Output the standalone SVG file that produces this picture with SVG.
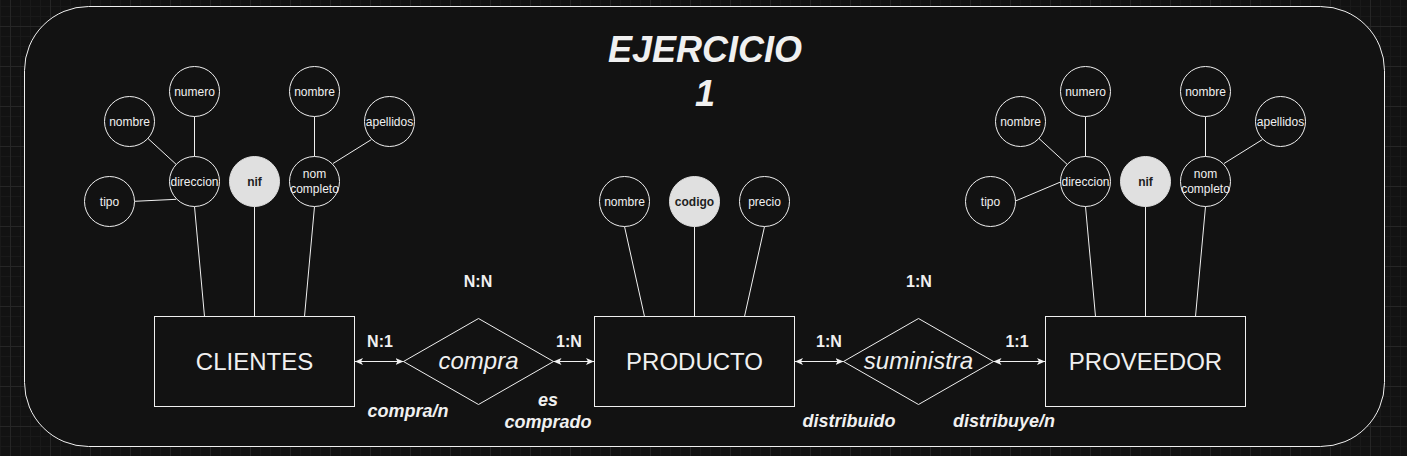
<svg xmlns="http://www.w3.org/2000/svg" width="1407" height="456" viewBox="0 0 1407 456">
<style>
text{font-family:"Liberation Sans",Arial,sans-serif;fill:#f0f0f0;text-anchor:middle}
.attr circle{fill:#121212;stroke:#f0f0f0;stroke-width:1}
.attr text{font-size:12px}
.key circle{fill:#e0e0e0;stroke:#e0e0e0}
.key text{fill:#1e1e1e;font-weight:bold}
.ent rect{fill:#121212;stroke:#f0f0f0;stroke-width:1}
.ent text{font-size:24px}
.rel polygon{fill:#121212;stroke:#f0f0f0;stroke-width:1}
.rel text{font-size:24px;font-style:italic}
.lines line{stroke:#f0f0f0;stroke-width:1;fill:none}
.arrows line{stroke:#f0f0f0;stroke-width:1;marker-start:url(#ah);marker-end:url(#ah)}
.card{font-size:16px;font-weight:bold}
.role{font-size:18px;font-weight:bold;font-style:italic}
</style>
<defs>
<pattern id="grid" x="10" y="26" width="40" height="40" patternUnits="userSpaceOnUse">
<rect width="40" height="40" fill="#121212"/>
<path d="M10.5 0V40M20.5 0V40M30.5 0V40M0 10.5H40M0 20.5H40M0 30.5H40" stroke="#191919" stroke-width="1"/>
<path d="M0.5 0V40M0 0.5H40" stroke="#262626" stroke-width="1"/>
</pattern>
<marker id="ah" viewBox="0 0 8 7" refX="8" refY="3.5" markerWidth="8" markerHeight="7" markerUnits="userSpaceOnUse" orient="auto-start-reverse">
<path d="M0 0L8 3.5L0 7L2 3.5Z" fill="#f0f0f0"/>
</marker>
</defs>
<rect width="1407" height="456" fill="url(#grid)"/>
<rect id="frame" x="24.5" y="6.5" width="1360" height="440" rx="64" ry="64" fill="#121212" stroke="#f0f0f0" stroke-width="1"/>
<g id="title">
<text x="705" y="62" style="font-size:36px;font-weight:bold;font-style:italic">EJERCICIO</text>
<text x="705" y="105.5" style="font-size:36px;font-weight:bold;font-style:italic">1</text>
</g>
<g id="connectors">
<g class="lines">
<line x1="194.5" y1="116.5" x2="194.5" y2="156.5"/>
<line x1="147.9" y1="138.4" x2="176.3" y2="164.5"/>
<line x1="134.5" y1="201.3" x2="176.3" y2="199.3"/>
<line x1="314.5" y1="116.5" x2="314.5" y2="156.5"/>
<line x1="371.5" y1="139.5" x2="333" y2="163.5"/>
<line x1="194.5" y1="206.5" x2="204.5" y2="316.5"/>
<line x1="254.5" y1="206.5" x2="254.5" y2="316.5"/>
<line x1="314.5" y1="206.5" x2="304.5" y2="316.5"/>
<line x1="624.5" y1="226.5" x2="644.5" y2="316.5"/>
<line x1="694.5" y1="226.5" x2="694.5" y2="316.5"/>
<line x1="764.5" y1="226.5" x2="744.5" y2="316.5"/>
<line x1="1085.5" y1="116.5" x2="1085.5" y2="156.5"/>
<line x1="1038.9" y1="138.4" x2="1067.3" y2="164.5"/>
<line x1="1015.5" y1="201" x2="1060.5" y2="182"/>
<line x1="1205.5" y1="116.5" x2="1205.5" y2="156.5"/>
<line x1="1262.5" y1="139.5" x2="1224" y2="163.5"/>
<line x1="1085.5" y1="206.5" x2="1095.5" y2="316.5"/>
<line x1="1145.5" y1="206.5" x2="1145.5" y2="316.5"/>
<line x1="1205.5" y1="206.5" x2="1195.5" y2="316.5"/>
</g>
<g class="arrows">
<line x1="355" y1="361.5" x2="403.5" y2="361.5"/>
<line x1="553.5" y1="361.5" x2="594" y2="361.5"/>
<line x1="795" y1="361.5" x2="843.5" y2="361.5"/>
<line x1="993.5" y1="361.5" x2="1045" y2="361.5"/>
</g>
</g>
<g id="cli-numero" class="attr"><circle cx="194.5" cy="91.5" r="25"/><text x="194.5" y="95.5">numero</text></g>
<g id="cli-nombre" class="attr"><circle cx="129.5" cy="121.5" r="25"/><text x="129.5" y="125.5">nombre</text></g>
<g id="cli-direccion" class="attr"><circle cx="194.5" cy="181.5" r="25"/><text x="194.5" y="185.5">direccion</text></g>
<g id="cli-nif" class="attr key"><circle cx="254.5" cy="181.5" r="25"/><text x="254.5" y="185.5">nif</text></g>
<g id="cli-tipo" class="attr"><circle cx="109.5" cy="201.5" r="25"/><text x="109.5" y="205.5">tipo</text></g>
<g id="cli-nombre2" class="attr"><circle cx="314.5" cy="91.5" r="25"/><text x="314.5" y="95.5">nombre</text></g>
<g id="cli-apellidos" class="attr"><circle cx="389.5" cy="121.5" r="25"/><text x="389.5" y="125.5">apellidos</text></g>
<g id="cli-nomcompleto" class="attr"><circle cx="314.5" cy="181.5" r="25"/><text x="314.5" y="178">nom</text><text x="314.5" y="193">completo</text></g>
<g id="pro-nombre" class="attr"><circle cx="624.5" cy="201.5" r="25"/><text x="624.5" y="205.5">nombre</text></g>
<g id="pro-codigo" class="attr key"><circle cx="694.5" cy="201.5" r="25"/><text x="694.5" y="205.5">codigo</text></g>
<g id="pro-precio" class="attr"><circle cx="764.5" cy="201.5" r="25"/><text x="764.5" y="205.5">precio</text></g>
<g id="prv-numero" class="attr"><circle cx="1085.5" cy="91.5" r="25"/><text x="1085.5" y="95.5">numero</text></g>
<g id="prv-nombre" class="attr"><circle cx="1020.5" cy="121.5" r="25"/><text x="1020.5" y="125.5">nombre</text></g>
<g id="prv-direccion" class="attr"><circle cx="1085.5" cy="181.5" r="25"/><text x="1085.5" y="185.5">direccion</text></g>
<g id="prv-nif" class="attr key"><circle cx="1145.5" cy="181.5" r="25"/><text x="1145.5" y="185.5">nif</text></g>
<g id="prv-tipo" class="attr"><circle cx="990.5" cy="201.5" r="25"/><text x="990.5" y="205.5">tipo</text></g>
<g id="prv-nombre2" class="attr"><circle cx="1205.5" cy="91.5" r="25"/><text x="1205.5" y="95.5">nombre</text></g>
<g id="prv-apellidos" class="attr"><circle cx="1280.5" cy="121.5" r="25"/><text x="1280.5" y="125.5">apellidos</text></g>
<g id="prv-nomcompleto" class="attr"><circle cx="1205.5" cy="181.5" r="25"/><text x="1205.5" y="178">nom</text><text x="1205.5" y="193">completo</text></g>
<g id="clientes" class="ent"><rect x="154.5" y="316.5" width="200" height="90"/><text x="254.5" y="370">CLIENTES</text></g>
<g id="producto" class="ent"><rect x="594.5" y="316.5" width="200" height="90"/><text x="694.5" y="370">PRODUCTO</text></g>
<g id="proveedor" class="ent"><rect x="1045.5" y="316.5" width="200" height="90"/><text x="1145.5" y="370">PROVEEDOR</text></g>
<g id="compra" class="rel"><polygon points="478.5,318.5 553.5,361.5 478.5,404.5 403.5,361.5"/><text x="478.5" y="369">compra</text></g>
<g id="suministra" class="rel"><polygon points="918.5,318.5 993.5,361.5 918.5,404.5 843.5,361.5"/><text x="918.5" y="369">suministra</text></g>
<g id="labels">
<text class="card" x="478" y="287">N:N</text>
<text class="card" x="919" y="287">1:N</text>
<text class="card" x="380" y="347">N:1</text>
<text class="card" x="569" y="347">1:N</text>
<text class="card" x="829" y="347">1:N</text>
<text class="card" x="1017" y="347">1:1</text>
<text class="role" x="408" y="417">compra/n</text>
<text class="role" x="548" y="406">es</text>
<text class="role" x="548" y="427.5">comprado</text>
<text class="role" x="849" y="427">distribuido</text>
<text class="role" x="1004" y="427">distribuye/n</text>
</g>
</svg>
